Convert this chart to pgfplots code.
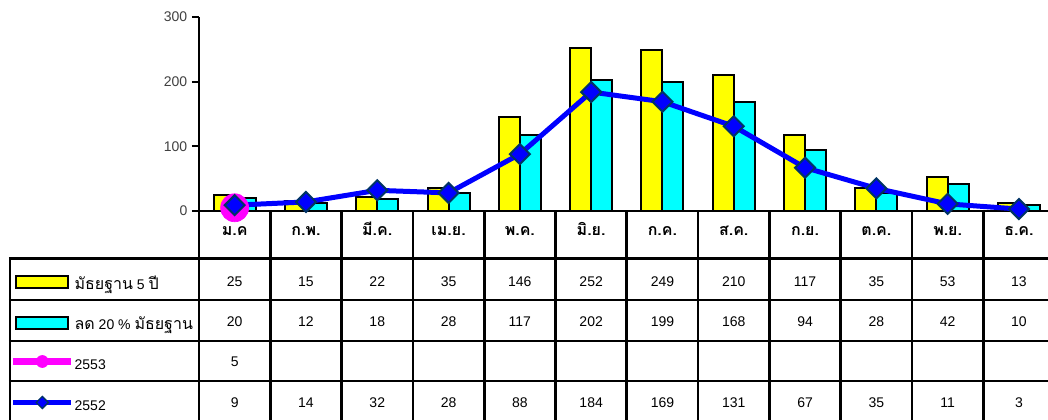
\documentclass[border=0pt]{standalone}
\usepackage{pgfplots}
\pgfplotsset{compat=1.18}
\usepackage{pgfplotstable}
\usepackage{fontspec}
\setmainfont{Liberation Sans}
\newfontfamily\thaifont[Script=Thai]{Loma}

\definecolor{xyellow}{RGB}{255,255,0}
\definecolor{xcyan}{RGB}{0,255,255}
\definecolor{xmagenta}{RGB}{255,0,255}
\definecolor{xblue}{RGB}{0,0,255}
\definecolor{xnavy}{RGB}{0,51,102}

% monthly counts: 5-year median, median minus 20 %, year 2552
\pgfplotstableread{
x std cut y52
0 25 20 9
1 15 12 14
2 22 18 32
3 35 28 28
4 146 117 88
5 252 202 184
6 249 199 169
7 210 168 131
8 117 94 67
9 35 28 35
10 53 42 11
11 13 10 3
}\monthly

% year 2553 (so far)
\pgfplotstableread{
x y53
0 5
}\current

\begin{document}
\begin{tikzpicture}
% page frame: 1048 x 419 px at 0.75pt per px, axis origin at (199,211) px
\useasboundingbox (-149.25pt,158.25pt) rectangle (636.75pt,-156pt);

\begin{axis}[
  at={(0,0)}, anchor=south west, scale only axis,
  width=641.7pt, height=145.5pt,
  xmin=-0.5, xmax=11.5, ymin=0, ymax=300,
  axis x line*=bottom, axis y line*=left,
  axis line style={line width=2pt, -},
  clip=false,
  xtick={0,...,11},
  xticklabels={ม.ค, ก.พ., มี.ค., เม.ย., พ.ค., มิ.ย., ก.ค., ส.ค., ก.ย., ต.ค., พ.ย., ธ.ค.},
  xticklabel style={font=\thaifont\bfseries\fontsize{12}{14}\selectfont, anchor=base, yshift=-13pt},
  x tick style={draw=none},
  ytick={0,100,200,300},
  y tick style={line width=1.5pt, black},
  tick align=outside, major tick length=5.25pt,
  yticklabel style={font=\fontsize{10.5}{12}\selectfont, text=black!75},
  /pgf/number format/assume math mode=true,
  legend cell align=left,
  legend style={at={(axis description cs:-0.2209,-0.268)}, anchor=north west,
    draw=none, fill=none, inner sep=0pt, outer sep=0pt,
    row sep=0pt, column sep=0pt,
    font=\fontsize{10.5}{12}\selectfont,
    nodes={minimum height=30.75pt, inner sep=0pt}},
]

\addplot[ybar, bar width=15.75pt, bar shift=-7.875pt, fill=xyellow, draw=black, line width=1.5pt,
  legend image code/.code={\draw[fill=xyellow, draw=black, line width=1.5pt] (2.25pt,-3pt) rectangle (41.25pt,6pt);}]
  table[x=x, y=std] {\monthly};
\addlegendentry{{\thaifont\fontsize{12}{14}\selectfont มัธยฐาน} 5 {\thaifont\fontsize{12}{14}\selectfont ปี}}

\addplot[ybar, bar width=15.75pt, bar shift=7.875pt, fill=xcyan, draw=black, line width=1.5pt,
  legend image code/.code={\draw[fill=xcyan, draw=black, line width=1.5pt] (2.25pt,-3pt) rectangle (41.25pt,6pt);}]
  table[x=x, y=cut] {\monthly};
\addlegendentry{{\thaifont\fontsize{12}{14}\selectfont ลด} 20 \% {\thaifont\fontsize{12}{14}\selectfont มัธยฐาน}}

\addplot[xmagenta, line width=3.75pt, mark=*, mark size=10.5pt,
  mark options={fill=xmagenta, draw=xmagenta, line width=0.5pt},
  legend image code/.code={\draw[xmagenta, line width=5pt, mark=*, mark size=4.5pt,
      mark repeat=2, mark phase=2, mark options={fill=xmagenta, draw=xmagenta, line width=0.5pt}]
      plot coordinates {(0pt,3pt) (21.75pt,3pt) (43.5pt,3pt)};}]
  table[x=x, y=y53] {\current};
\addlegendentry{2553}

\addplot[xblue, line width=3.75pt, mark=square*, mark size=5.3pt,
  mark options={rotate=45, fill=xblue, draw=xnavy, line width=1.5pt},
  legend image code/.code={\draw[xblue, line width=3.75pt, mark=square*, mark size=3.2pt,
      mark repeat=2, mark phase=2, mark options={rotate=45, fill=xblue, draw=xnavy, line width=1pt}]
      plot coordinates {(0pt,3pt) (21.75pt,3pt) (43.5pt,3pt)};}]
  table[x=x, y=y52] {\monthly};
\addlegendentry{2552}

% values printed in the data table below the axis
\pgfplotsset{tablerow/.style={forget plot, draw=none, mark=none,
  point meta=explicit, nodes near coords,
  nodes near coords style={anchor=center, text=black, font=\fontsize{10.5}{12}\selectfont}}}
\addplot[tablerow] table[x=x, y expr=-109.8, meta=std] {\monthly};
\addplot[tablerow] table[x=x, y expr=-171.2, meta=cut] {\monthly};
\addplot[tablerow] table[x=x, y expr=-233.0, meta=y53] {\current};
\addplot[tablerow] table[x=x, y expr=-296.9, meta=y52] {\monthly};
\end{axis}

% data table grid
\begin{scope}[x=0.75pt,y=-0.75pt,shift={(-199,-211)}, line width=2pt]
  \foreach \k in {0,...,12}
    \draw ({199+71.3*\k},211) -- ({199+71.3*\k},425);
  \draw (10,258.5) -- (10,425);
  \foreach \r in {258.5,300,341,381}
    \draw (9,\r) -- (1060,\r);
\end{scope}
\end{tikzpicture}
\end{document}
